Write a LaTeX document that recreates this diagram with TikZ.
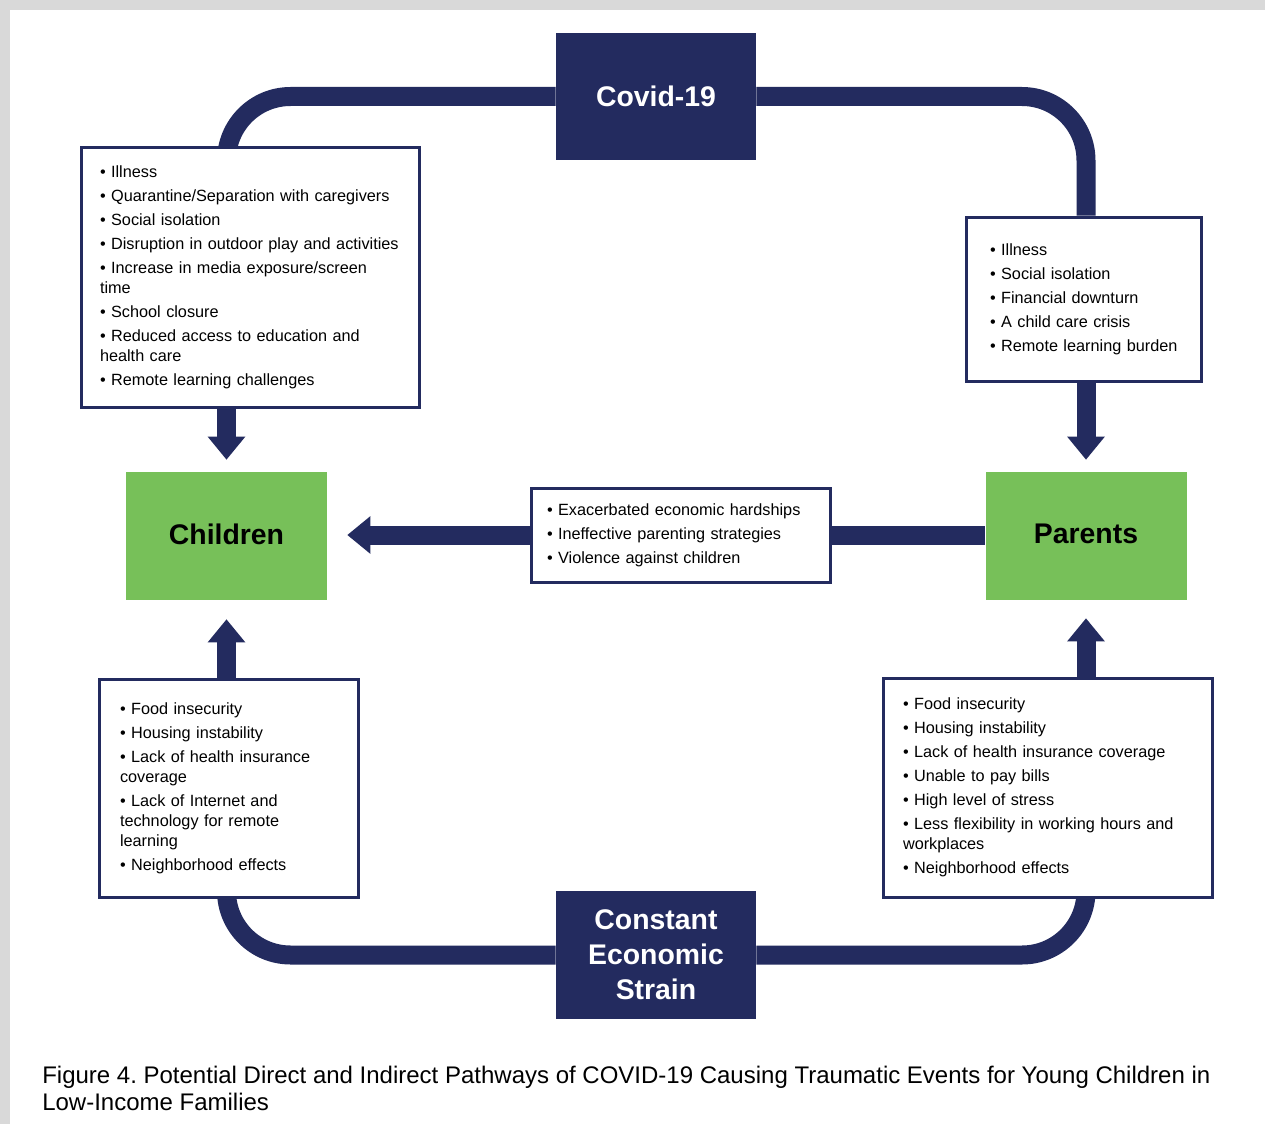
\documentclass[tikz,border=0pt]{standalone}
\usepackage{fontspec}
\setmainfont{Liberation Sans}
\usetikzlibrary{arrows.meta}
\definecolor{navy}{RGB}{35,43,95}
\definecolor{leaf}{RGB}{119,192,89}
\definecolor{framegray}{RGB}{217,217,217}
\pgfdeclarelayer{back}
\pgfdeclarelayer{links}
\pgfsetlayers{back,links,main}
\newcommand{\bul}[1]{\mbox{\textbullet\ #1}}
\frenchspacing
\begin{document}
\begin{tikzpicture}[x=0.75pt,y=-0.75pt,
  hub/.style={fill=navy, text=white, inner sep=0pt, align=center,
    font=\bfseries\fontsize{21.3}{26.25}\selectfont, minimum width=150pt, minimum height=96pt},
  actor/.style={fill=leaf, text=black, inner sep=0pt,
    font=\bfseries\fontsize{21.3}{26.25}\selectfont, minimum width=150.75pt, minimum height=96pt},
  listbox/.style={draw=navy, line width=2.25pt, fill=white, align=left, inner ysep=0pt,
    font=\fontsize{12.2}{15}\selectfont},
  loopline/.style={draw=navy, line width=14.25pt, rounded corners=48pt},
  blockarrow/.style={draw=navy, line width=14.25pt, -{Triangle[width=27pt,length=17.25pt]}},
  bar/.style={draw=navy, line width=14.25pt}
]
\begin{pgfonlayer}{back}
  \fill[framegray] (0,0) rectangle (1265,1124);
  \fill[white] (10,10) rectangle (1265,1124);
\end{pgfonlayer}
\useasboundingbox (0,0) rectangle (1265,1124);

% main nodes
\node[hub, minimum height=95.25pt] (covid) at (656,96.5) {Covid-19};
\node[hub] (strain) at (656,955) {Constant\\Economic\\Strain};
\node[actor] (children) at (226.5,536) {\raisebox{3pt}{Children}};
\node[actor] (parents) at (1086,536) {\raisebox{3pt}{Parents}};

% list boxes
\node[listbox, text width=225pt, inner xsep=14.25pt, minimum height=194.25pt] (lt) at (250,277.5) {%
\bul{Illness}\\[3pt]
\bul{Quarantine/Separation with caregivers}\\[3pt]
\bul{Social isolation}\\[3pt]
\bul{Disruption in outdoor play and activities}\\[3pt]
\bul{Increase in media exposure/screen}\\
time\\[3pt]
\bul{School closure}\\[3pt]
\bul{Reduced access to education and}\\
health care\\[3pt]
\bul{Remote learning challenges}};

\node[listbox, text width=140.25pt, inner xsep=18pt, minimum height=123pt] (rt) at (1083.5,299) {%
\bul{Illness}\\[3pt]
\bul{Social isolation}\\[3pt]
\bul{Financial downturn}\\[3pt]
\bul{A child care crisis}\\[3pt]
\bul{Remote learning burden}\par\vspace*{5pt}};

\node[listbox, text width=200.25pt, inner xsep=12pt, minimum height=70.5pt] (mid) at (680.5,535) {%
\bul{Exacerbated economic hardships}\\[3pt]
\bul{Ineffective parenting strategies}\\[3pt]
\bul{Violence against children}};

\node[listbox, text width=162.75pt, inner xsep=15.75pt, minimum height=163.5pt] (lb) at (228.5,788) {%
\bul{Food insecurity}\\[3pt]
\bul{Housing instability}\\[3pt]
\bul{Lack of health insurance}\\
coverage\\[3pt]
\bul{Lack of Internet and}\\
technology for remote\\
learning\\[3pt]
\bul{Neighborhood effects}\par\vspace*{4pt}};

\node[listbox, text width=216.75pt, inner xsep=15pt, minimum height=164.25pt] (rb) at (1047.5,787.5) {%
\bul{Food insecurity}\\[3pt]
\bul{Housing instability}\\[3pt]
\bul{Lack of health insurance coverage}\\[3pt]
\bul{Unable to pay bills}\\[3pt]
\bul{High level of stress}\\[3pt]
\bul{Less flexibility in working hours and}\\
workplaces\\[3pt]
\bul{Neighborhood effects}};

% caption
\node[anchor=north west, inner sep=0pt, align=left, font=\fontsize{18}{20.25}\selectfont] (caption) at (42,1066)
{Figure 4. Potential Direct and Indirect Pathways of COVID-19 Causing Traumatic Events for Young Children in\\
Low-Income Families};

% connectors
\begin{pgfonlayer}{links}
  \draw[loopline] (covid.west) -| (lt.north -| children.north);
  \draw[loopline] (covid.east) -| (rt.north -| parents.north);
  \draw[loopline] (strain.west) -| (lb.south -| children.south);
  \draw[loopline] (strain.east) -| (rb.south -| parents.south);
  \draw[blockarrow, shorten >=9pt] (lt.south -| children.north) -- (children.north);
  \draw[blockarrow, shorten >=9pt] (rt.south -| parents.north) -- (parents.north);
  \draw[blockarrow, shorten >=14.25pt] (lb.north -| children.south) -- (children.south);
  \draw[blockarrow, shorten >=13.5pt] (rb.north -| parents.south) -- (parents.south);
  \draw[blockarrow, shorten >=15pt] (mid.west) -- (children.east |- mid.west);
  \draw[bar] (mid.east) -- (mid.east -| parents.west);
\end{pgfonlayer}
\end{tikzpicture}
\end{document}
